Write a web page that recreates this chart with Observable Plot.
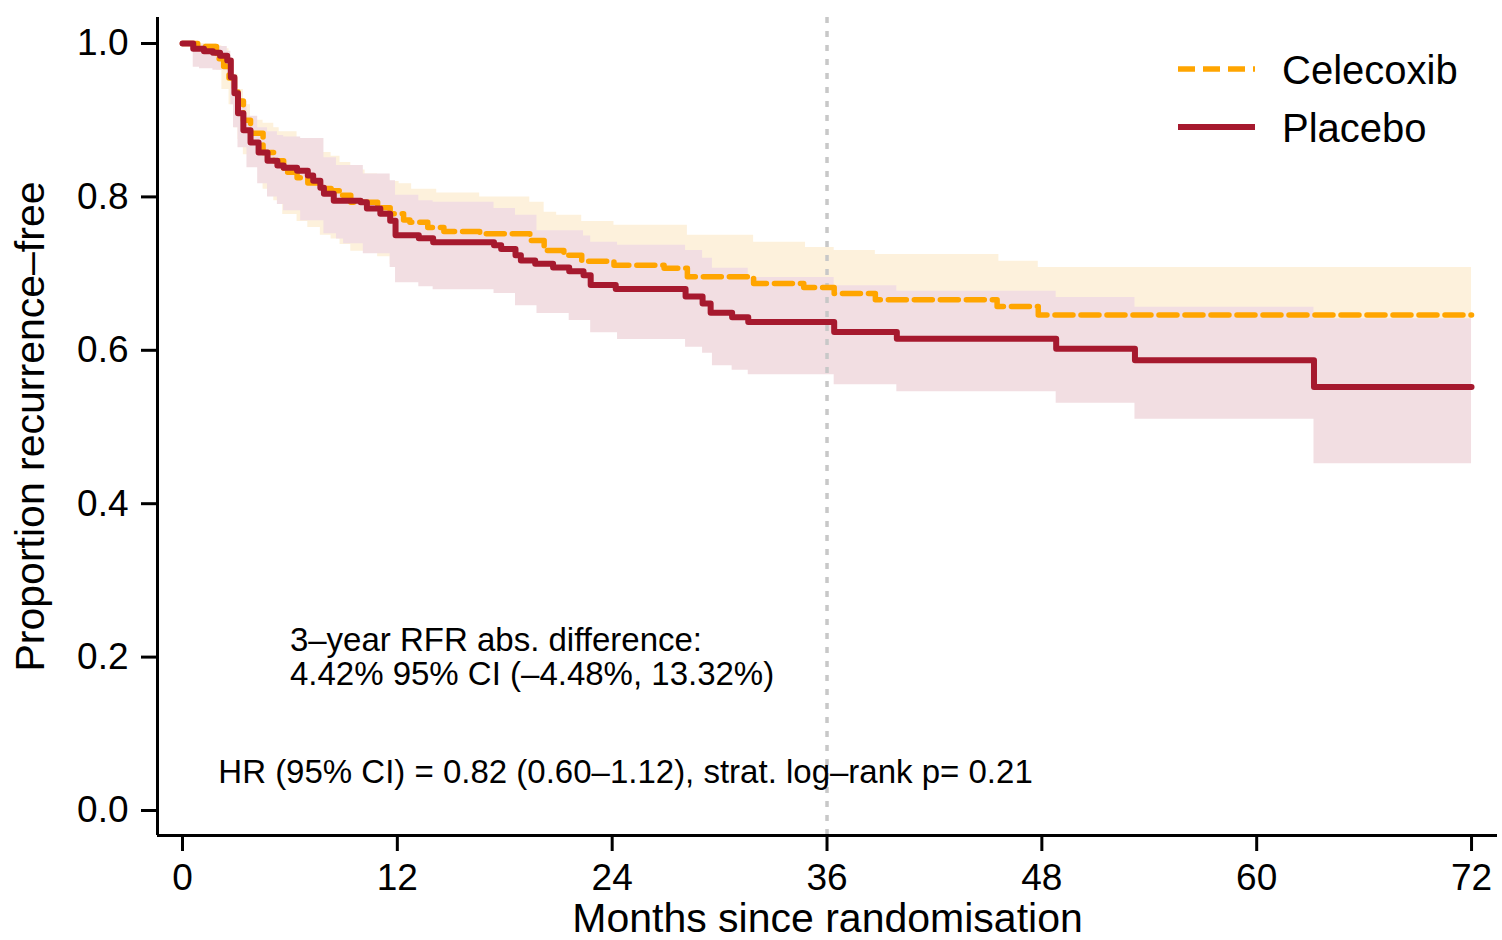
<!DOCTYPE html>
<html><head><meta charset="utf-8">
<script src="https://cdn.jsdelivr.net/npm/d3@7"></script>
<script src="https://cdn.jsdelivr.net/npm/@observablehq/plot@0.6"></script>
<style>
body{margin:0;background:#fff;font-family:"Liberation Sans",Arial,sans-serif;}
#wrap{position:relative;width:1502px;height:940px;}
#legend{position:absolute;left:0;top:0;pointer-events:none;}
</style></head><body><div id="wrap"></div>
<script>
// ---- data (months since randomisation, proportion recurrence-free) ----
const celecoxibTime = [0,0.85,1.9,2.0,2.3,2.6,2.9,3.1,3.4,3.8,4.5,5.1,5.65,6.4,7.0,7.7,8.3,8.8,9.4,10.9,11.6,12.35,12.7,13.7,14.6,16.6,19.4,20.2,21.3,22.3,24.1,26.9,28.2,31.9,34.7,36.4,38.7,45.5,47.8,72];
const celecoxibSurv = [1.0,0.996,0.985,0.98,0.97,0.955,0.94,0.925,0.90,0.883,0.858,0.847,0.832,0.825,0.818,0.811,0.808,0.802,0.793,0.786,0.778,0.770,0.767,0.760,0.755,0.752,0.743,0.730,0.724,0.716,0.711,0.707,0.696,0.687,0.682,0.674,0.666,0.657,0.646,0.646];

const placeboTime = [0,0.6,1.2,1.7,2.1,2.5,2.7,2.9,3.1,3.4,3.8,4.25,4.75,5.3,5.65,6.4,7.0,7.3,7.7,7.9,8.45,9.95,10.3,11.05,11.6,11.9,13.2,14.0,17.4,17.8,18.6,18.9,19.7,20.7,21.6,22.4,22.8,24.2,28.1,29.05,29.5,30.7,31.6,36.4,39.9,48.8,53.2,63.2,72];
const placeboSurv = [1.0,0.993,0.990,0.988,0.984,0.978,0.956,0.935,0.909,0.887,0.871,0.858,0.847,0.841,0.838,0.834,0.828,0.821,0.812,0.804,0.795,0.793,0.785,0.778,0.769,0.750,0.746,0.741,0.737,0.732,0.724,0.717,0.713,0.708,0.703,0.698,0.685,0.680,0.670,0.661,0.649,0.643,0.637,0.624,0.615,0.602,0.587,0.552,0.552];

const celecoxibBandTime = [0,0.85,1.9,2.2,2.6,2.9,3.1,3.4,3.8,4.5,5.1,5.4,5.6,6.4,7.0,7.7,8.3,8.8,9.4,10.2,10.9,11.6,12.1,12.35,12.8,13.7,14.2,14.6,16.6,19.4,20.2,20.9,21.3,22.3,24.1,26.9,28.2,31.9,34.8,36.4,38.7,45.6,47.8,72];
const celecoxibLower = [1.0,0.985,0.965,0.94,0.92,0.89,0.875,0.855,0.84,0.81,0.795,0.79,0.777,0.768,0.76,0.75,0.745,0.738,0.729,0.729,0.722,0.712,0.712,0.705,0.70,0.695,0.695,0.69,0.686,0.677,0.663,0.663,0.657,0.648,0.643,0.638,0.627,0.617,0.612,0.603,0.594,0.584,0.572,0.572];
const celecoxibUpper = [1.0,1.0,0.997,0.993,0.98,0.96,0.94,0.92,0.90,0.896,0.89,0.885,0.885,0.87,0.865,0.858,0.853,0.845,0.835,0.83,0.822,0.82,0.817,0.817,0.81,0.81,0.805,0.805,0.80,0.793,0.78,0.776,0.776,0.768,0.763,0.763,0.750,0.741,0.734,0.730,0.725,0.716,0.708,0.708];

const placeboBandTime = [0,0.6,0.95,1.7,2.5,2.7,2.85,3.1,3.6,4.2,4.75,5.3,5.65,6.6,7.9,8.6,9.0,10.1,11.6,11.9,13.2,14.0,17.4,18.6,19.8,21.6,22.4,22.8,24.3,28.1,29.05,29.6,30.7,31.6,36.4,39.9,48.8,53.2,63.2,72];
const placeboLower = [1.0,0.969,0.967,0.965,0.956,0.92,0.89,0.864,0.838,0.817,0.800,0.790,0.782,0.769,0.752,0.745,0.739,0.726,0.708,0.688,0.683,0.679,0.674,0.658,0.648,0.639,0.639,0.623,0.614,0.604,0.596,0.580,0.574,0.568,0.555,0.546,0.531,0.510,0.452,0.452];
const placeboUpper = [1.0,0.998,0.998,0.996,0.99,0.974,0.955,0.925,0.905,0.89,0.885,0.88,0.878,0.876,0.851,0.841,0.841,0.830,0.821,0.802,0.795,0.793,0.785,0.776,0.756,0.756,0.749,0.741,0.737,0.730,0.720,0.707,0.707,0.695,0.684,0.677,0.669,0.656,0.641,0.641];

const groupNames = ["Celecoxib", "Placebo"];
const xTicks = [0, 12, 24, 36, 48, 60, 72];
const yTicks = [0, 0.2, 0.4, 0.6, 0.8, 1.0];
const referenceMonth = [36];
const xTitle = "Months since randomisation";
const yTitle = "Proportion recurrence\u2013free";
const noteLines = ["3\u2013year RFR abs. difference:\n4.42% 95% CI (\u20134.48%, 13.32%)"];
const notePos = [6, 0.2];
const hrText = ["HR (95% CI) = 0.82 (0.60\u20131.12), strat. log\u2013rank p= 0.21"];
const hrPos = [2, 0.05];

// ---- styles ----
const FONT = "'Liberation Sans', Arial, Helvetica, sans-serif";
const colors = {Celecoxib: "#ffa500", Placebo: "#a6192e"};
const bandColors = {Celecoxib: "#fdf1dc", Placebo: "#f2dee2"};
const dashes = {Celecoxib: "18,8", Placebo: null};

const xDomain = [-1.396, 73.45];
const yDomain = [-0.0326, 1.0339];

const rows = (t, v) => t.map((x, i) => ({t: x, s: v[i]}));
const band = (t, lo, hi) => t.map((x, i) => ({t: x, lo: lo[i], hi: hi[i]}));

const cele = rows(celecoxibTime, celecoxibSurv);
const plac = rows(placeboTime, placeboSurv);
const celeBand = band(celecoxibBandTime, celecoxibLower, celecoxibUpper);
const placBand = band(placeboBandTime, placeboLower, placeboUpper);

const chart = Plot.plot({
  width: 1502, height: 940,
  marginLeft: 157, marginRight: 5, marginTop: 17, marginBottom: 105,
  x: {domain: xDomain},
  y: {domain: yDomain},
  style: {fontFamily: FONT, background: "white", color: "black", overflow: "visible"},
  marks: [
    Plot.areaY(celeBand, {x: "t", y1: "lo", y2: "hi", fill: bandColors.Celecoxib, curve: "step-after"}),
    Plot.areaY(placBand, {x: "t", y1: "lo", y2: "hi", fill: bandColors.Placebo, curve: "step-after"}),
    Plot.ruleX(referenceMonth, {stroke: "#c8c8c8", strokeWidth: 3.5, strokeDasharray: "6,8"}),
    Plot.line(cele, {x: "t", y: "s", stroke: colors.Celecoxib, strokeWidth: 5.5, strokeDasharray: dashes.Celecoxib, curve: "step-after"}),
    Plot.line(plac, {x: "t", y: "s", stroke: colors.Placebo, strokeWidth: 6, curve: "step-after", strokeLinecap: "round", strokeLinejoin: "round"}),
    Plot.text(noteLines, {x: () => notePos[0], y: () => notePos[1], text: d => d, textAnchor: "start", lineAnchor: "middle", lineHeight: 1.02, fontSize: 33, fill: "black"}),
    Plot.text(hrText, {x: () => hrPos[0], y: () => hrPos[1], text: d => d, textAnchor: "start", lineAnchor: "middle", fontSize: 33, fill: "black"}),
    Plot.ruleX([xDomain[0]], {y1: yDomain[0], y2: yDomain[1], stroke: "black", strokeWidth: 3}),
    Plot.ruleY([yDomain[0]], {x1: xDomain[0], x2: xDomain[1], stroke: "black", strokeWidth: 3}),
    Plot.axisX({ticks: xTicks, tickSize: 16, tickPadding: 12, strokeWidth: 3, fontSize: 37, label: null, tickFormat: d => String(d)}),
    Plot.axisY({ticks: yTicks, tickSize: 16, tickPadding: 13, strokeWidth: 3, fontSize: 37, label: null, tickFormat: d3.format(".1f")}),
    Plot.text([xTitle], {frameAnchor: "bottom", dy: 96, textAnchor: "middle", lineAnchor: "bottom", fontSize: 41, fill: "black"}),
    Plot.text([yTitle], {frameAnchor: "left", dx: -114, rotate: -90, textAnchor: "middle", lineAnchor: "bottom", fontSize: 41, fill: "black"})
  ]
});

const wrap = document.getElementById("wrap");
wrap.appendChild(chart);

// ---- legend (top right, inside plot area) ----
const leg = d3.select(wrap).append("svg").attr("id", "legend")
  .attr("width", 1502).attr("height", 940);
const rowG = leg.selectAll("g").data(groupNames).join("g")
  .attr("transform", (d, i) => `translate(1178, ${69 + i * 58})`);
rowG.append("line").attr("x1", 0).attr("x2", 77).attr("y1", 0).attr("y2", 0)
  .attr("stroke", d => colors[d]).attr("stroke-width", d => dashes[d] ? 5.5 : 6)
  .attr("stroke-dasharray", d => dashes[d] ? "17,8" : null);
rowG.append("text").attr("x", 104).attr("y", 14.5).text(d => d)
  .attr("font-family", FONT).attr("font-size", 40).attr("fill", "black");
</script>
</body></html>
